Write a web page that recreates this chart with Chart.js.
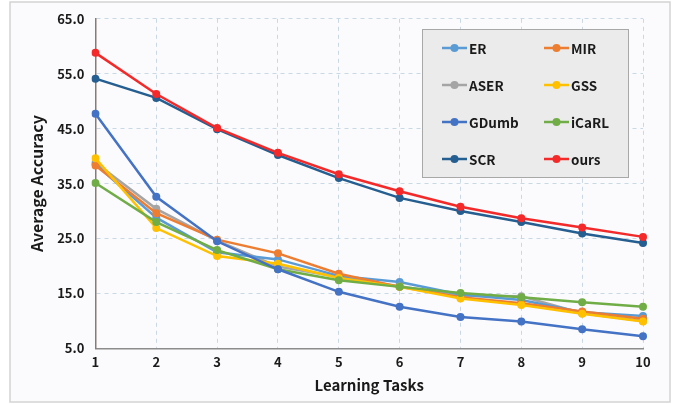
<!DOCTYPE html>
<html>
<head>
<meta charset="utf-8">
<script src="https://cdn.jsdelivr.net/npm/chart.js@4.4.1/dist/chart.umd.min.js"></script>
<style>
    body { margin: 0; background: #fff; }
    #wrap { position: absolute; left: 0; top: 0; width: 688px; height: 404px; }
</style>
</head>
<body>
<div id="wrap"><canvas id="accChart" width="688" height="404"></canvas></div>
<script>
// data
const tasks = ['1', '2', '3', '4', '5', '6', '7', '8', '9', '10'];
const seriesNames = ['ER', 'MIR', 'ASER', 'GSS', 'GDumb', 'iCaRL', 'SCR', 'ours'];
const erValues    = [38.5, 28.8, 22.5, 21.2, 18.2, 17.1, 14.8, 13.8, 11.6, 10.9];
const mirValues   = [38.3, 29.6, 24.8, 22.3, 18.6, 16.2, 14.3, 13.2, 11.7, 10.4];
const aserValues  = [38.8, 30.4, 24.6, 19.9, 18.0, 16.3, 14.6, 14.5, 11.4, 10.0];
const gssValues   = [39.6, 26.9, 21.8, 20.4, 17.8, 16.2, 14.1, 12.9, 11.3, 9.9];
const gdumbValues = [47.7, 32.6, 24.5, 19.4, 15.3, 12.6, 10.7, 9.9, 8.5, 7.2];
const icarlValues = [35.1, 28.0, 22.9, 19.4, 17.4, 16.2, 15.1, 14.3, 13.4, 12.6];
const scrValues   = [54.1, 50.6, 44.9, 40.2, 36.0, 32.4, 30.0, 28.0, 25.9, 24.2];
const oursValues  = [58.8, 51.3, 45.1, 40.6, 36.7, 33.6, 30.8, 28.7, 27.0, 25.3];
const yTicks = [5, 15, 25, 35, 45, 55, 65];

const seriesValues = [erValues, mirValues, aserValues, gssValues, gdumbValues, icarlValues, scrValues, oursValues];
const seriesColors = ['#5b9bd5', '#ed7d31', '#a5a5a5', '#ffc000', '#4472c4', '#70ad47', '#255e91', '#f42a2a'];
const drawOrder = [6, 5, 7, 4, 2, 3, 1, 0];

const FONT = '"Noto Sans CJK JP", "Noto Sans", sans-serif';

// frame + grey legend box with two columns
const framePlugin = {
    id: 'frame',
    beforeDraw(chart) {
        const ctx = chart.ctx;
        ctx.save();
        ctx.fillStyle = '#fbfbfd';
        ctx.fillRect(10, 2, 660, 400);
        ctx.strokeStyle = '#d4d4d4';
        ctx.lineWidth = 1.5;
        ctx.strokeRect(10, 2, 660, 400);
        ctx.restore();
    },
    afterDraw(chart) {
        const ctx = chart.ctx;
        ctx.save();
        ctx.fillStyle = '#ebebeb';
        ctx.fillRect(422, 29, 206, 148);
        ctx.strokeStyle = '#a8a8a8';
        ctx.lineWidth = 1;
        ctx.strokeRect(422.5, 29.5, 206, 148);
        ctx.font = 'bold 13.5px ' + FONT;
        ctx.textBaseline = 'middle';
        chart.data.datasets.forEach((ds, i) => {
            const col = i % 2, row = Math.floor(i / 2);
            const x0 = 442 + col * 102;
            const y0 = 48 + row * 37;
            ctx.strokeStyle = ds.borderColor;
            ctx.lineWidth = 2.5;
            ctx.beginPath();
            ctx.moveTo(x0, y0);
            ctx.lineTo(x0 + 25, y0);
            ctx.stroke();
            ctx.fillStyle = ds.borderColor;
            ctx.beginPath();
            ctx.arc(x0 + 12.5, y0, 4, 0, Math.PI * 2);
            ctx.fill();
            ctx.fillStyle = '#1a1a1a';
            ctx.fillText(ds.label, x0 + 27, y0 + 1);
        });
        ctx.restore();
    }
};

new Chart(document.getElementById('accChart'), {
    type: 'line',
    data: {
        labels: tasks,
        datasets: seriesNames.map((name, i) => ({
            label: name,
            data: seriesValues[i],
            borderColor: seriesColors[i],
            backgroundColor: seriesColors[i],
            borderWidth: 2.5,
            pointRadius: 4,
            pointBorderWidth: 0,
            tension: 0,
            order: drawOrder[i]
        }))
    },
    options: {
        responsive: false,
        animation: false,
        layout: { padding: { left: 23, right: 45, top: 10, bottom: 6 } },
        plugins: {
            legend: { display: false },
            tooltip: { enabled: false }
        },
        scales: {
            x: {
                offset: false,
                grid: { color: '#c8d8e4', lineWidth: 1, drawTicks: false },
                border: { display: true, color: '#8c8c8c', width: 1.5, dash: [4, 4] },
                ticks: { color: '#1a1a1a', font: { family: FONT, size: 13, weight: 'bold' }, padding: 6, maxRotation: 0 },
                title: { display: true, text: 'Learning Tasks', color: '#1a1a1a', font: { family: FONT, size: 15, weight: 'bold' }, padding: { top: 0 } }
            },
            y: {
                min: 5,
                max: 65,
                afterBuildTicks: axis => { axis.ticks = yTicks.map(v => ({ value: v })); },
                grid: { color: '#c8d8e4', lineWidth: 1, drawTicks: false },
                border: { display: true, color: '#8a7a70', width: 1.5, dash: [4, 4] },
                ticks: {
                    color: '#1a1a1a',
                    font: { family: FONT, size: 13, weight: 'bold' },
                    padding: 11,
                    callback: v => Number(v).toFixed(1)
                },
                title: { display: true, text: 'Average Accuracy', color: '#1a1a1a', font: { family: FONT, size: 16, weight: 'bold' }, padding: { bottom: 0 } }
            }
        }
    },
    plugins: [framePlugin]
});
</script>
</body>
</html>
